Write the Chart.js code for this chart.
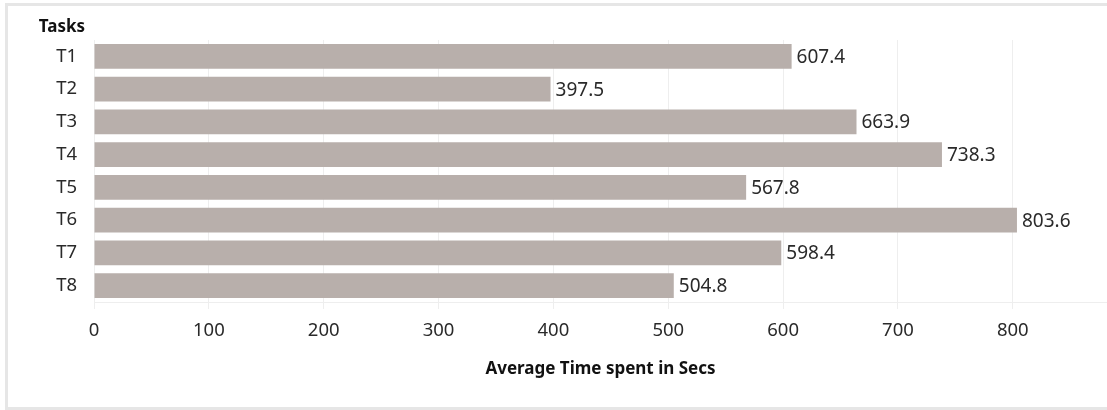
<!DOCTYPE html>
<html>
<head>
<meta charset="utf-8">
<script src="https://cdn.jsdelivr.net/npm/chart.js@4.4.1/dist/chart.umd.min.js"></script>
<style>
  html, body { margin: 0; padding: 0; background: #ffffff; }
  #wrap { position: relative; width: 1107px; height: 410px; overflow: hidden; }
  #frame {
    position: absolute; left: 5px; top: 3px; width: 1120px; height: 401px;
    border-left: 3px solid #e6e6e6; border-top: 3px solid #e6e6e6; border-bottom: 3px solid #e6e6e6;
  }
  #chart { position: absolute; left: 0; top: 0; }
</style>
</head>
<body>
<div id="wrap">
  <div id="frame"></div>
  <canvas id="chart" width="1107" height="410"></canvas>
</div>
<script>
const tasks = ['T1', 'T2', 'T3', 'T4', 'T5', 'T6', 'T7', 'T8'];
const avgSeconds = [607.4, 397.5, 663.9, 738.3, 567.8, 803.6, 598.4, 504.8];
const xTitle = 'Average Time spent in Secs';
const yTitle = 'Tasks';

const textColor = '#2a2a2a';
const gridColor = '#eeeeee';
const barColor = '#b8afab';
const family = "'Noto Sans', 'Open Sans', sans-serif";
const tickFont = { family, size: 18.5 };
const valueFont = { family, size: 19 };
const boldFont = { family, size: 17, weight: 'bold' };

// Value labels at the end of each bar, plus the "Tasks" heading above the category column
const barLabels = {
  id: 'barLabels',
  afterDatasetsDraw(chart) {
    const ctx = chart.ctx;
    const meta = chart.getDatasetMeta(0);
    ctx.save();
    ctx.fillStyle = textColor;
    ctx.font = `${valueFont.size}px ${valueFont.family}`;
    ctx.textAlign = 'left';
    ctx.textBaseline = 'middle';
    meta.data.forEach((bar, i) => {
      ctx.fillText(avgSeconds[i].toFixed(1), bar.x + 5, bar.y + 1);
    });
    const yScale = chart.scales.y;
    ctx.font = `bold ${boldFont.size}px ${boldFont.family}`;
    ctx.fillStyle = '#111111';
    ctx.textAlign = 'right';
    ctx.textBaseline = 'middle';
    ctx.fillText(yTitle, yScale.right - 9, chart.chartArea.top - 13);
    ctx.restore();
  }
};

new Chart(document.getElementById('chart'), {
  type: 'bar',
  data: {
    labels: tasks,
    datasets: [{
      data: avgSeconds,
      backgroundColor: barColor,
      borderWidth: 0,
      categoryPercentage: 1,
      barPercentage: 0.76
    }]
  },
  options: {
    indexAxis: 'y',
    responsive: false,
    animation: false,
    layout: { padding: { top: 40, right: 0, bottom: 31, left: 0 } },
    plugins: { legend: { display: false }, tooltip: { enabled: false } },
    scales: {
      x: {
        min: 0,
        max: 882,
        ticks: {
          stepSize: 100,
          includeBounds: false,
          color: textColor,
          font: tickFont,
          padding: 11
        },
        grid: { color: gridColor, tickLength: 7, tickColor: gridColor },
        border: { color: gridColor },
        title: { display: true, text: xTitle, color: '#111111', font: boldFont, padding: 0 },
        afterFit(scale) { scale.height = 410 - 31 - 40 - 262; }
      },
      y: {
        ticks: { color: textColor, font: tickFont, padding: 9 },
        grid: { display: false },
        border: { color: gridColor },
        afterFit(scale) { scale.width = 94; }
      }
    }
  },
  plugins: [barLabels]
});
</script>
</body>
</html>
